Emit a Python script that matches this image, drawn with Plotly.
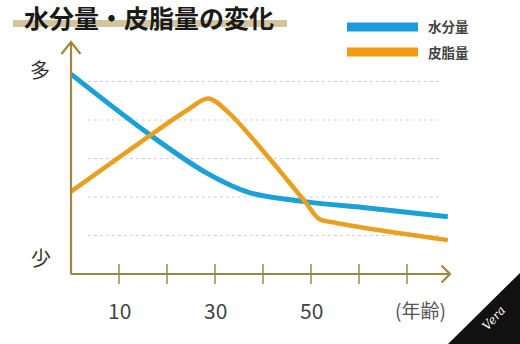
import plotly.graph_objects as go

# ---- data ----
ages_water = [0, 16.5, 28.3, 37, 48.75, 62.3, 78.5]
water = [5.19, 3.61, 2.62, 2.12, 1.88, 1.71, 1.49]

ages_sebum = [0, 14, 24, 28.6, 33, 48.75, 51.6, 55.5, 78.5]
sebum = [2.14, 3.38, 4.24, 4.56, 4.17, 1.88, 1.44, 1.32, 0.88]

series_names = ["水分量", "皮脂量"]
tick_vals = [10, 20, 30, 40, 50, 60, 70]
label_vals = [10, 30, 50]
label_text = ["10", "30", "50"]
grid_vals = [1, 2, 3, 4, 5]

# ---- geometry ----
W, H = 520, 344
L, R, T, B = 71, 70, 42, 70
PW, PH = W - L - R, H - T - B
XPX, YPX = 4.8, 38.5  # px per year / per unit


def px(xp):
    return (xp - L) / PW


def py(yp):
    return (H - B - yp) / PH


BLUE = "#1ba0d8"
ORANGE = "#e8a023"
AXIS = "#a08741"
FONT = "Noto Sans CJK JP"

fig = go.Figure()
fig.add_trace(go.Scatter(x=ages_water, y=water, mode="lines", name=series_names[0],
                         line=dict(color=BLUE, width=5, shape="spline", smoothing=1),
                         showlegend=False))
fig.add_trace(go.Scatter(x=ages_sebum, y=sebum, mode="lines", name=series_names[1],
                         line=dict(color=ORANGE, width=4.5, shape="spline", smoothing=0.9),
                         showlegend=False))

shapes = []
# dotted grid
for g in grid_vals:
    shapes.append(dict(type="line", xref="x", yref="y", x0=3.5, x1=76.9, y0=g, y1=g,
                       line=dict(color="#cfcfcf", width=1.2, dash="dot"), layer="below"))
# axes
shapes.append(dict(type="line", xref="paper", yref="paper", x0=0, x1=1, y0=0, y1=0,
                   line=dict(color=AXIS, width=2.2), layer="above"))
shapes.append(dict(type="line", xref="paper", yref="paper", x0=0, x1=0, y0=0, y1=1,
                   line=dict(color=AXIS, width=2.2), layer="above"))
# arrow heads
shapes.append(dict(type="path", xref="paper", yref="paper",
                   path=f"M {px(61.5)},{py(54)} L {px(71)},{py(42)} L {px(80.5)},{py(54)}",
                   line=dict(color=AXIS, width=2.2), layer="above"))
shapes.append(dict(type="path", xref="paper", yref="paper",
                   path=f"M {px(441.5)},{py(265.5)} L {px(450)},{py(274)} L {px(441.5)},{py(282.5)}",
                   line=dict(color=AXIS, width=2.2), layer="above"))
# ticks
for t in tick_vals:
    shapes.append(dict(type="line", xref="x", yref="paper", x0=t, x1=t,
                       y0=py(284), y1=py(264), line=dict(color=AXIS, width=1.5), layer="above"))
# title underline
shapes.append(dict(type="rect", xref="paper", yref="paper", x0=px(13), x1=px(287),
                   y0=py(27), y1=py(20), fillcolor="#d3c59d", line=dict(width=0), layer="below"))
# legend bars
shapes.append(dict(type="rect", xref="paper", yref="paper", x0=px(347), x1=px(418),
                   y0=py(31.5), y1=py(22.5), fillcolor="#1c9bdc", line=dict(width=0)))
shapes.append(dict(type="rect", xref="paper", yref="paper", x0=px(347), x1=px(418),
                   y0=py(56.5), y1=py(47.5), fillcolor="#f29a12", line=dict(width=0)))
# watermark corner
shapes.append(dict(type="path", xref="paper", yref="paper",
                   path=f"M {px(447)},{py(345)} L {px(521)},{py(272)} L {px(521)},{py(345)} Z",
                   fillcolor="#111111", line=dict(width=0), layer="above"))

ann = []
ann.append(dict(text="<b>水分量・皮脂量の変化</b>", xref="paper", yref="paper", x=px(22), y=py(16.5),
                xanchor="left", yanchor="middle", showarrow=False,
                font=dict(family=FONT, size=25, color="#1a1a1a")))
ann.append(dict(text="<b>" + series_names[0] + "</b>", xref="paper", yref="paper", x=px(426), y=py(26),
                xanchor="left", yanchor="middle", showarrow=False,
                font=dict(family=FONT, size=13.5, color="#444444")))
ann.append(dict(text="<b>" + series_names[1] + "</b>", xref="paper", yref="paper", x=px(426), y=py(52),
                xanchor="left", yanchor="middle", showarrow=False,
                font=dict(family=FONT, size=13.5, color="#444444")))
ann.append(dict(text="多", xref="paper", yref="paper", x=px(40), y=py(69),
                xanchor="center", yanchor="middle", showarrow=False,
                font=dict(family=FONT, size=20, color="#333333")))
ann.append(dict(text="少", xref="paper", yref="paper", x=px(41), y=py(257),
                xanchor="center", yanchor="middle", showarrow=False,
                font=dict(family=FONT, size=20, color="#333333")))
for v, t in zip(label_vals, label_text):
    ann.append(dict(text=t, xref="x", yref="paper", x=v, y=py(310),
                    xanchor="center", yanchor="middle", showarrow=False,
                    font=dict(family=FONT, size=21, color="#444444")))
ann.append(dict(text="(年齢)", xref="paper", yref="paper", x=px(420), y=py(309),
                xanchor="center", yanchor="middle", showarrow=False,
                font=dict(family=FONT, size=19, color="#555555")))
ann.append(dict(text="<i>Vera</i>", xref="paper", yref="paper", x=px(494), y=py(318),
                xanchor="center", yanchor="middle", showarrow=False, textangle=-48,
                font=dict(family="DejaVu Serif", size=12, color="#ffffff")))

fig.update_layout(
    width=W, height=H, margin=dict(l=L, r=R, t=T, b=B),
    paper_bgcolor="white", plot_bgcolor="white",
    xaxis=dict(range=[0, PW / XPX], showgrid=False, zeroline=False, showline=False,
               showticklabels=False, ticks=""),
    yaxis=dict(range=[0, PH / YPX], showgrid=False, zeroline=False, showline=False,
               showticklabels=False, ticks=""),
    shapes=shapes, annotations=ann, showlegend=False,
)
fig.write_html("out.html")
